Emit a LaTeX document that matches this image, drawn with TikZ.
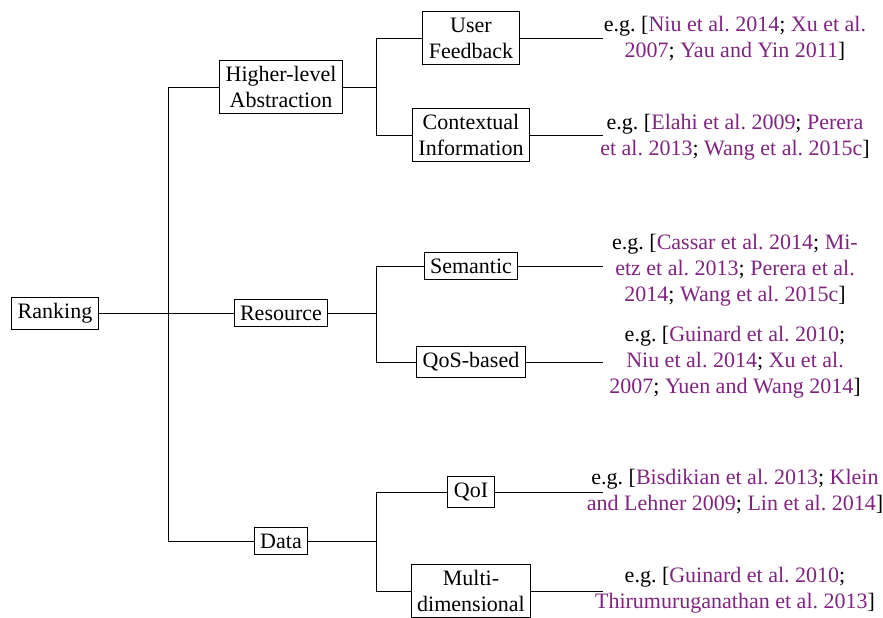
\documentclass[tikz,border=0pt]{standalone}
\usepackage{fontspec}
\setmainfont{Liberation Serif}
\usepackage{xcolor}
\definecolor{citepurple}{RGB}{128,36,128}
\newcommand{\cit}[1]{\textcolor{citepurple}{#1}}
\frenchspacing
\usetikzlibrary{positioning}

\begin{document}
\begin{tikzpicture}[x=0.5pt,y=-0.5pt,line width=0.5pt,
                    every node/.style={font=\fontsize{11}{13}\selectfont},
                    catbox/.style={draw,align=center,inner xsep=3pt,inner ysep=3pt},
                    reftext/.style={align=center,inner sep=0pt}]
                \useasboundingbox (0,0) rectangle (883,617);

                \node[catbox] (rank) at (55,313) {Ranking};
                \node[catbox] (hla) at (281,87) {Higher-level\\Abstraction};
                \node[catbox] (res) at (281,313) {Resource};
                \node[catbox] (data) at (281,541) {Data};

                \node[catbox] (uf) at (471,38) {User\\Feedback};
                \node[catbox] (ci) at (471,135) {Contextual\\Information};
                \node[catbox] (sem) at (471,266) {Semantic};
                \node[catbox] (qos) at (471,362) {QoS-based};
                \node[catbox] (qoi) at (471,492) {QoI};
                \node[catbox] (md) at (471,591) {Multi-\\dimensional};

                \node[reftext] (t1) at (735,39) {e.g. [\cit{Niu et al. 2014}; \cit{Xu et al.}\\\cit{2007}; \cit{Yau and Yin 2011}]};
                \node[reftext] (t2) at (735,137) {e.g. [\cit{Elahi et al. 2009}; \cit{Perera}\\\cit{et al. 2013}; \cit{Wang et al. 2015c}]};
                \node[reftext] (t3) at (735,270) {e.g. [\cit{Cassar et al. 2014}; \cit{Mi-}\\\cit{etz et al. 2013}; \cit{Perera et al.}\\\cit{2014}; \cit{Wang et al. 2015c}]};
                \node[reftext] (t4) at (735,362) {e.g. [\cit{Guinard et al. 2010};\\\cit{Niu et al. 2014}; \cit{Xu et al.}\\\cit{2007}; \cit{Yuen and Wang 2014}]};
                \node[reftext] (t5) at (735,492) {e.g. [\cit{Bisdikian et al. 2013}; \cit{Klein}\\\cit{and Lehner 2009}; \cit{Lin et al. 2014}]};
                \node[reftext] (t6) at (735,590) {e.g. [\cit{Guinard et al. 2010};\\\cit{Thirumuruganathan et al. 2013}]};

                \coordinate (fork1) at (168,313);
                \coordinate (fork2) at (376,87);
                \coordinate (fork3) at (376,313);
                \coordinate (fork4) at (376,541);
                \coordinate (txtedge) at (603,0);

                \draw (rank.east) -- (fork1) |- (hla.west);
                \draw (fork1) |- (res.west);
                \draw (fork1) |- (data.west);

                \draw (hla.east) -- (fork2) |- (uf.west);
                \draw (fork2) |- (ci.west);
                \draw (res.east) -- (fork3) |- (sem.west);
                \draw (fork3) |- (qos.west);
                \draw (data.east) -- (fork4) |- (qoi.west);
                \draw (fork4) |- (md.west);

                \draw (uf.east) -- (uf.east -| txtedge);
                \draw (ci.east) -- (ci.east -| txtedge);
                \draw (sem.east) -- (sem.east -| txtedge);
                \draw (qos.east) -- (qos.east -| txtedge);
                \draw (qoi.east) -- (qoi.east -| txtedge);
                \draw (md.east) -- (md.east -| txtedge);
            \end{tikzpicture}
\end{document}
